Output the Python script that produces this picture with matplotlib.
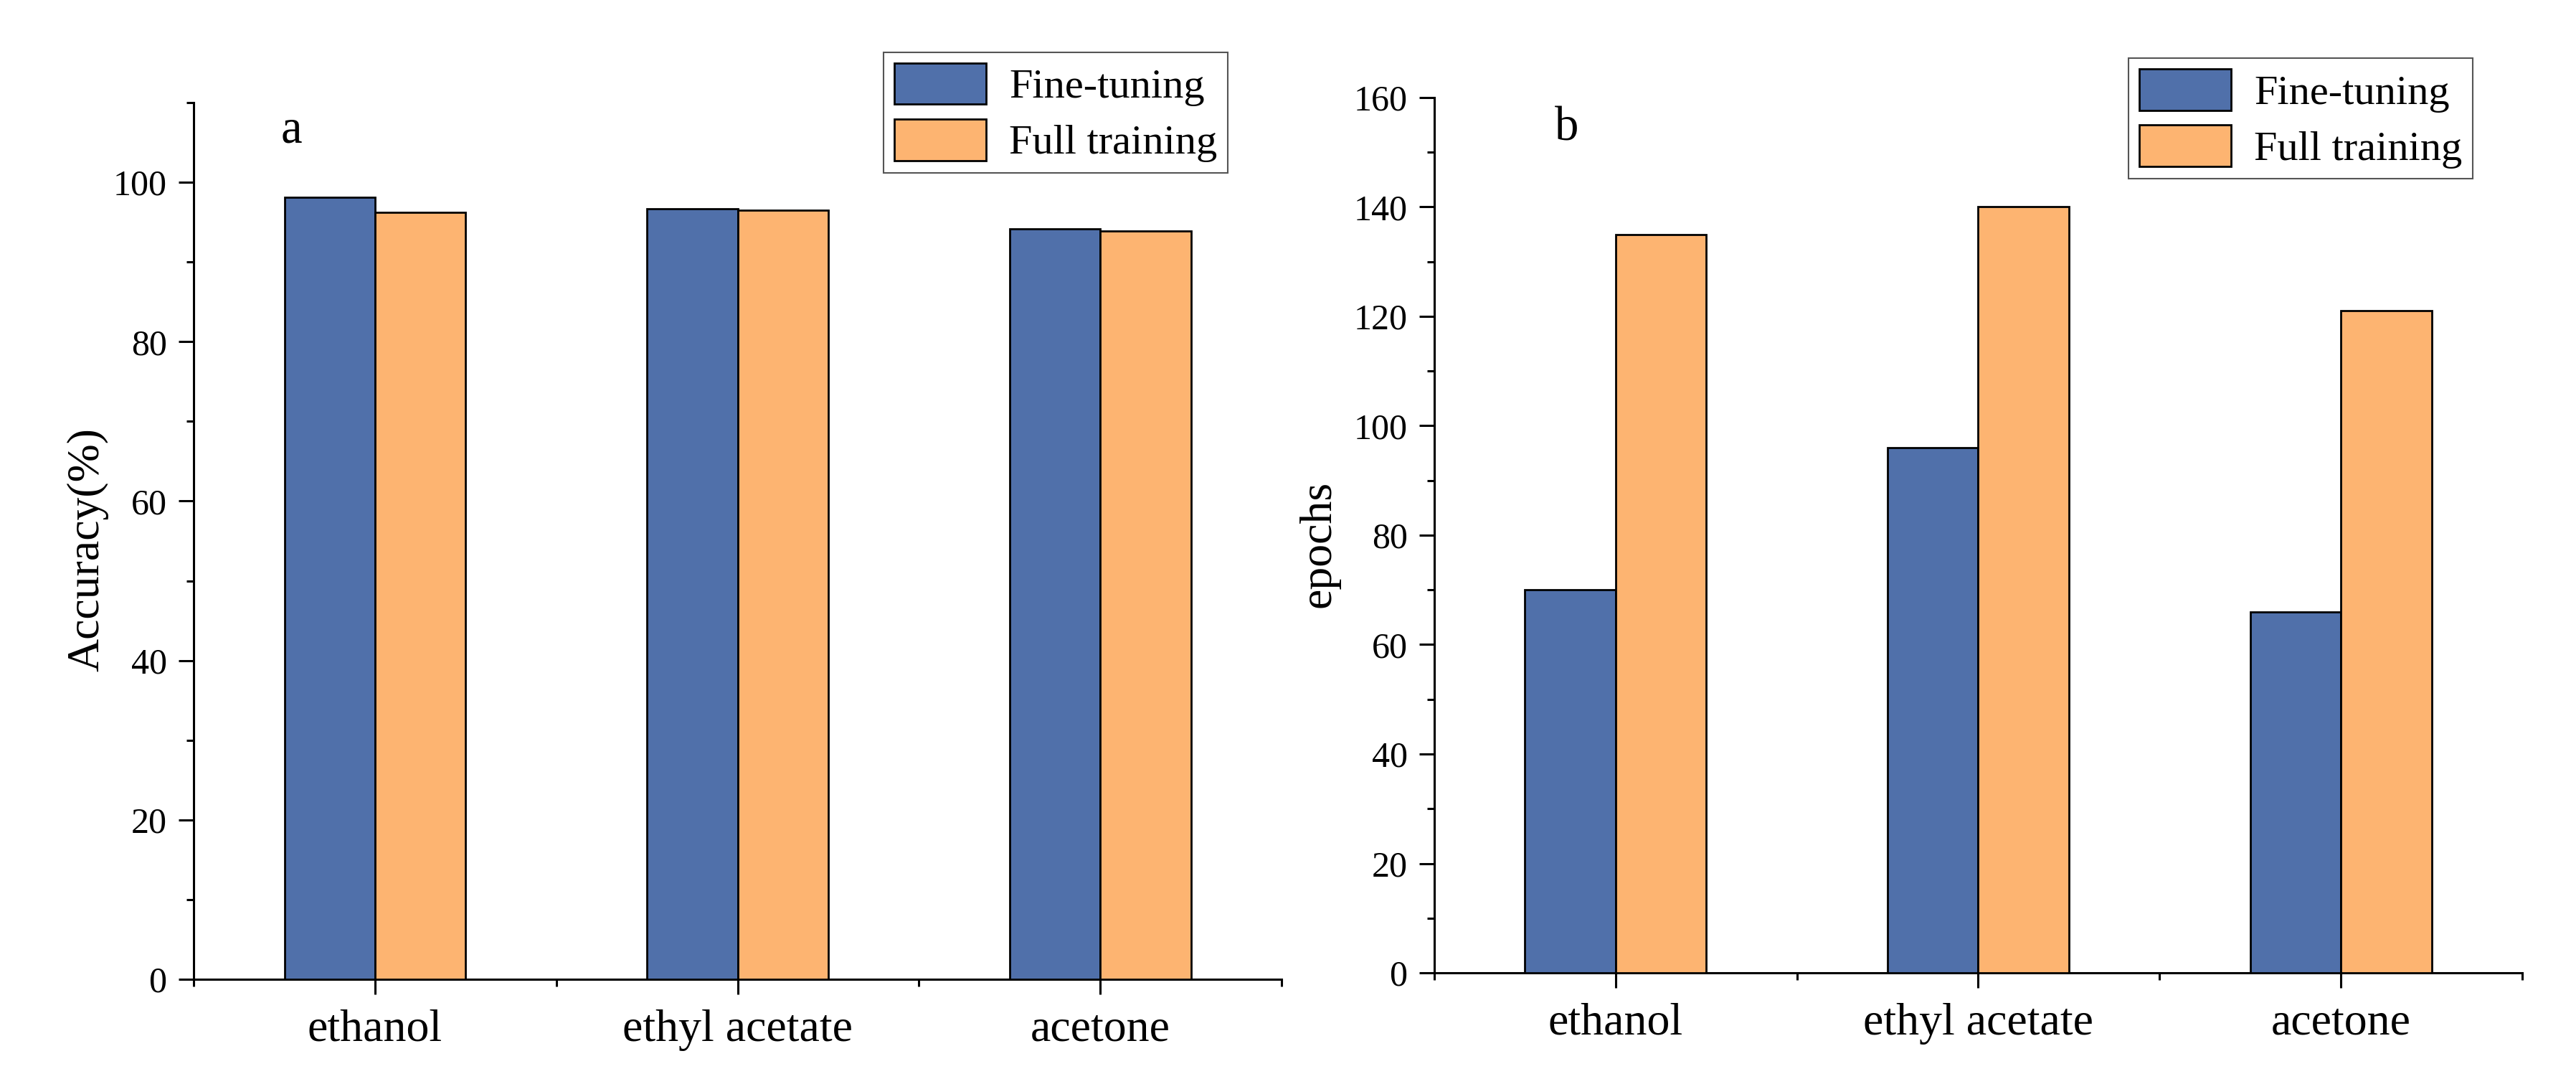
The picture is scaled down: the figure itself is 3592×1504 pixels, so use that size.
import matplotlib
matplotlib.use('Agg')
import matplotlib.pyplot as plt
import numpy as np
from matplotlib.ticker import MultipleLocator, FixedLocator

plt.rcParams['font.family'] = ['Liberation Serif', 'DejaVu Serif']

# Data
solvents = ['ethanol', 'ethyl acetate', 'acetone']
series_names = ['Fine-tuning', 'Full training']
accuracy_finetune = [98.1, 96.7, 94.2]
accuracy_full = [96.2, 96.5, 93.9]
epochs_finetune = [70, 96, 66]
epochs_full = [135, 140, 121]

BLUE = '#5070AA'
ORANGE = '#FDB471'
BAR_W = 0.25


def style_axis(ax, ymax, ylabel, label_x, panel, panel_xy):
    ax.spines['top'].set_visible(False)
    ax.spines['right'].set_visible(False)
    for s in ('left', 'bottom'):
        ax.spines[s].set_linewidth(2.2)

    ax.set_xlim(0.5, 3.5)
    ax.set_ylim(0, ymax)
    ax.set_xticks(np.arange(1, len(solvents) + 1))
    ax.set_xticklabels(solvents, fontsize=46)
    ax.xaxis.set_minor_locator(FixedLocator([0.5, 1.5, 2.5, 3.5]))
    ax.yaxis.set_major_locator(MultipleLocator(20))
    ax.yaxis.set_minor_locator(MultipleLocator(10))

    ax.tick_params(axis='both', which='major', direction='out', length=15,
                   width=2.2, colors='black')
    ax.tick_params(axis='both', which='minor', direction='out', length=7.5,
                   width=2.2)
    ax.tick_params(axis='y', which='major', labelsize=36, pad=12)
    ax.tick_params(axis='x', which='major', pad=15)

    ax.set_ylabel(ylabel, fontsize=46)
    ax.yaxis.set_label_coords(label_x, 0.49)

    ax.text(panel_xy[0], panel_xy[1], panel, transform=ax.transAxes,
            fontsize=48, ha='left', va='baseline')


def draw_bars(ax, vals_a, vals_b):
    x = np.arange(1, len(solvents) + 1)
    ax.bar(x - BAR_W / 2, vals_a, BAR_W, color=BLUE, edgecolor='black',
           linewidth=2, label=series_names[0], zorder=3)
    ax.bar(x + BAR_W / 2, vals_b, BAR_W, color=ORANGE, edgecolor='black',
           linewidth=2, label=series_names[1], zorder=3)


fig = plt.figure(figsize=(35.92, 15.04), dpi=100)
fig.patch.set_facecolor('white')

ax1 = fig.add_axes([0.0752, 0.0924, 0.4223, 0.8125])
ax2 = fig.add_axes([0.5568, 0.0984, 0.4223, 0.8112])

draw_bars(ax1, accuracy_finetune, accuracy_full)
draw_bars(ax2, epochs_finetune, epochs_full)

style_axis(ax1, 110, 'Accuracy(%)', -0.078, 'a', (0.080, 0.955))
style_axis(ax2, 160, 'epochs', -0.087, 'b', (0.111, 0.951))

for ax, anchor in ((ax1, (0.4766, 0.9515)), (ax2, (0.960, 0.946))):
    leg = ax.legend(loc='upper right', bbox_to_anchor=anchor,
                    bbox_transform=fig.transFigure, fontsize=42,
                    frameon=True, fancybox=False, framealpha=1,
                    handlelength=2.2, handleheight=1.15, handletextpad=0.55,
                    labelspacing=0.3, borderpad=0.25, borderaxespad=0)
    leg.get_frame().set_edgecolor('#555555')
    leg.get_frame().set_linewidth(1.5)

fig.savefig('out.png', dpi=100, facecolor='white')
